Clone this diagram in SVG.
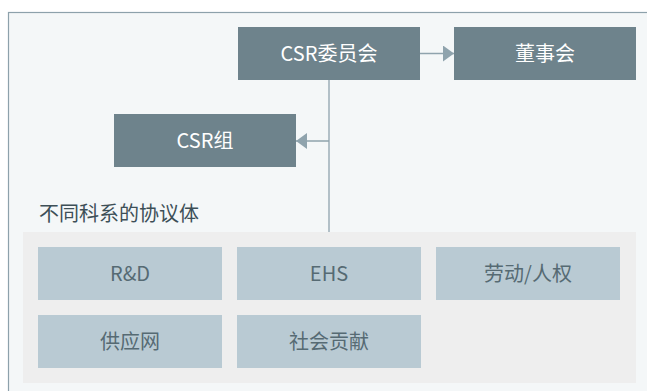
<svg xmlns="http://www.w3.org/2000/svg" width="647" height="391" viewBox="0 0 647 391">
<defs>
<style>
.t{font-family:"Noto Sans CJK SC","Noto Sans",sans-serif;font-size:20px;text-anchor:middle}
.dark rect{fill:#6e838c}
.dark text{fill:#ffffff}
.light rect{fill:#b9cad3}
.light text{fill:#566a73}
.conn{stroke:#8fa3ad;stroke-width:1.3;fill:none}
</style>
<marker id="ah" viewBox="0 0 11 16" refX="11" refY="8" markerWidth="11" markerHeight="16" markerUnits="userSpaceOnUse" orient="auto">
<path d="M0,0 L11,8 L0,16 Z" fill="#8fa3ad"/>
</marker>
</defs>
<rect x="0" y="0" width="647" height="391" fill="#ffffff"/>
<rect id="panel" x="8.5" y="12.5" width="660" height="400" fill="#f4f7f8" stroke="#8da1ab" stroke-width="1.2"/>
<rect id="group-bg" x="23" y="232" width="613" height="151" fill="#eeeeee"/>
<g id="connectors">
<line class="conn" x1="329" y1="80" x2="329" y2="232"/>
<line class="conn" x1="420" y1="53.5" x2="454" y2="53.5" marker-end="url(#ah)"/>
<line class="conn" x1="329" y1="141" x2="296" y2="141" marker-end="url(#ah)"/>
</g>
<g id="csr-committee" class="dark"><rect x="238" y="27" width="182" height="53"/><text class="t" x="329" y="61">CSR委员会</text></g>
<g id="board" class="dark"><rect x="454" y="27" width="182" height="53"/><text class="t" x="545" y="61">董事会</text></g>
<g id="csr-group" class="dark"><rect x="114" y="114" width="182" height="53"/><text class="t" x="205" y="148">CSR组</text></g>
<text id="heading" x="39" y="221" font-family="'Noto Sans CJK SC','Noto Sans',sans-serif" font-size="20" fill="#3d4f57">不同科系的协议体</text>
<g id="rd" class="light"><rect x="38" y="247" width="184" height="53"/><text class="t" x="130" y="281">R&amp;D</text></g>
<g id="ehs" class="light"><rect x="237" y="247" width="184" height="53"/><text class="t" x="329" y="281">EHS</text></g>
<g id="labor" class="light"><rect x="436" y="247" width="184" height="53"/><text class="t" x="528" y="281">劳动/人权</text></g>
<g id="supply" class="light"><rect x="38" y="315" width="184" height="53"/><text class="t" x="130" y="349">供应网</text></g>
<g id="social" class="light"><rect x="237" y="315" width="184" height="53"/><text class="t" x="329" y="349">社会贡献</text></g>
</svg>
